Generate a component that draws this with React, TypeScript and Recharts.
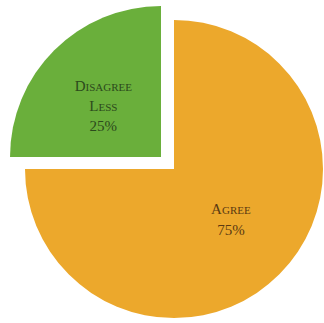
import { PieChart, Pie, Cell } from 'recharts'

const categories = ['Agree', 'Disagree']
const labelLines = [['Agree', '75%'], ['Disagree', 'Less', '25%']]
const shares = [75, 25]
const colors = ['#eca82c', '#6aaf3b']
const textColors = ['#5b3a12', '#2c4a1c']

const data = categories.map((name, i) => ({ name, value: shares[i] }))

const RAD = Math.PI / 180
const lineGap = [21, 20]
const nudgeY = [-6, 7]

// label inside each slice, several lines stacked around the slice's middle
const renderLabel = (index: number) => (props: any) => {
  if (props.index !== index) return null
  const { cx, cy, midAngle, outerRadius } = props
  const r = outerRadius * 0.54
  const x = cx + r * Math.cos(-midAngle * RAD)
  const y = cy + r * Math.sin(-midAngle * RAD) + nudgeY[index]
  const lines = labelLines[index]
  const lh = lineGap[index]
  const top = y - ((lines.length - 1) * lh) / 2
  return (
    <text
      x={x}
      y={top}
      textAnchor="middle"
      dominantBaseline="central"
      fill={textColors[index]}
      style={{ fontFamily: '"Liberation Serif", "DejaVu Serif", serif', fontVariant: 'small-caps', fontSize: 15 }}
    >
      {lines.map((t, j) => (
        <tspan key={j} x={x} y={top + j * lh}>
          {t}
        </tspan>
      ))}
    </text>
  )
}

export default function App() {
  return (
    <div style={{ position: 'absolute', left: 0, top: 0, width: 324, height: 323, background: '#fff' }}>
      <PieChart width={324} height={323} margin={{ top: 0, right: 0, bottom: 0, left: 0 }}>
        {/* main body: Agree slice */}
        <Pie
          data={data}
          dataKey="value"
          cx={174}
          cy={169}
          outerRadius={149}
          startAngle={90}
          endAngle={-270}
          stroke="none"
          labelLine={false}
          label={renderLabel(0)}
          isAnimationActive={false}
        >
          {data.map((d, i) => (
            <Cell key={d.name} fill={i === 0 ? colors[0] : 'transparent'} />
          ))}
        </Pie>
        {/* pulled-out slice */}
        <Pie
          data={data}
          dataKey="value"
          cx={161}
          cy={157}
          outerRadius={151}
          startAngle={90}
          endAngle={-270}
          stroke="none"
          labelLine={false}
          label={renderLabel(1)}
          isAnimationActive={false}
        >
          {data.map((d, i) => (
            <Cell key={d.name} fill={i === 1 ? colors[1] : 'transparent'} />
          ))}
        </Pie>
      </PieChart>
    </div>
  )
}
